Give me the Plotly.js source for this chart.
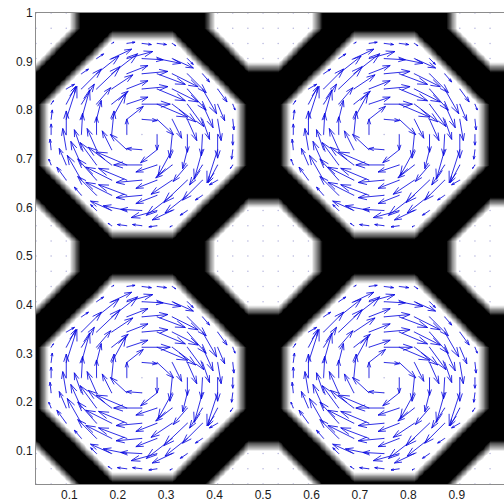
<!DOCTYPE html>
<html><head><meta charset="utf-8">
<script src="https://cdn.plot.ly/plotly-3.0.1.min.js"></script>
<style>html,body{margin:0;padding:0;background:#fff}#c{width:504px;height:502px}</style>
</head><body><div id="c"></div>
<script>
// 32 x 32 mask, one band of 16 rows repeated twice (y = row/32, x = col/32)
const maskBand = [
"11100000000011111110000000001111",
"11000111110001111100011111000111",
"10001111111000111000111111100011",
"00011111111100000001111111110000",
"00111111111110000011111111111000",
"01111111111111000111111111111100",
"01111111111111000111111111111100",
"01111111111111000111111111111100",
"01111111111111000111111111111100",
"01111111111111000111111111111100",
"00111111111110000011111111111000",
"00011111111100000001111111110000",
"10001111111000111000111111100011",
"11000111110001111100011111000111",
"11100000000011111110000000001111",
"11100000000011111110000000001111"
];
// Vector field of one large octagon, rows from top (dy=+6) to bottom (dy=-6); values read in screen pixels
const U = [
[2,7,8,8,3],
[6,17,22,18,20,18,5],
[6,19,22,18,22,24,22,16,6],
[7,17,20,18,18,22,24,22,16,12,8],
[2,8,11,12,14,18,24,26,20,14,9,6,2],
[1,9,7,4,12,14,13,14,8,8,6,3,1],
[0,0,1,0,2,0,0,0,-2,0,-1,0,0],
[-1,-3,-6,-8,-8,-14,-13,-14,-12,-4,-7,-9,-1],
[-2,-6,-9,-14,-20,-26,-24,-18,-14,-12,-11,-8,-2],
[-8,-12,-16,-22,-24,-22,-18,-18,-20,-17,-7],
[-6,-16,-22,-24,-22,-18,-22,-19,-6],
[-5,-18,-20,-18,-22,-17,-6],
[-3,-8,-8,-7,-2]
];
const V = [
[1,1,-1,-1,-2],
[4,8,6,-1,-4,-8,-5],
[4,15,17,7,2,-9,-11,-16,-7],
[4,17,19,12,7,2,-10,-11,-18,-21,-11],
[3,15,17,14,11,6,0,-11,-15,-19,-20,-14,-5],
[8,28,25,16,22,11,-1,-13,-16,-18,-17,-18,-9],
[9,20,18,15,20,13,0,-13,-20,-15,-18,-20,-9],
[9,18,17,18,16,13,1,-11,-22,-16,-25,-28,-8],
[5,14,20,19,15,11,0,-6,-11,-14,-17,-15,-3],
[11,21,18,11,10,-2,-7,-12,-19,-17,-4],
[7,16,11,9,-2,-7,-17,-15,-4],
[5,8,4,1,-6,-8,-4],
[2,1,1,-1,-1]
];
const tileCenters = [0.25, 0.75];
const xTicks = [0.1,0.2,0.3,0.4,0.5,0.6,0.7,0.8,0.9];
const yTicks = [0.1,0.2,0.3,0.4,0.5,0.6,0.7,0.8,0.9,1];
const step = 1/32;

const grid = [], z = [];
for (let i = 1; i <= 32; i++) grid.push(i*step);
for (let j = 0; j < 32; j++) z.push(maskBand[j%16].split('').map(Number));

// Shade each mask cell as two linear triangles, split along the diagonal whose corners agree,
// so staircase edges of the mask shade as straight bands.
const N = 6, fine = [], zf = [];
for (let k = 0; k <= 31*N; k++) fine.push((1 + k/N)*step);
function shade(px, py){
  const i = Math.min(Math.floor(px), 30), j = Math.min(Math.floor(py), 30);
  const s = px-i, t = py-j;
  const a=z[j][i], b=z[j][i+1], c=z[j+1][i], d=z[j+1][i+1];
  if (b===c && a!==d) {           // split along b-c
    return s+t<=1 ? a+(b-a)*s+(c-a)*t : d+(c-d)*(1-s)+(b-d)*(1-t);
  }
  // split along a-d
  return s>=t ? a+(b-a)*s+(d-b)*t : a+(c-a)*t+(d-c)*s;
}
for (let k = 0; k <= 31*N; k++){
  const r=[]; for (let m = 0; m <= 31*N; m++) r.push(shade(m/N,k/N)); zf.push(r);
}

// quiver segments through data coordinates
const ax=[], ay=[];
const sx=1.18/485, sy=1.18/486, a=0.33, b=0.33;
tileCenters.forEach(cx=>tileCenters.forEach(cy=>{
  U.forEach((row,r)=>{
    const dy=6-r, w=(row.length-1)/2;
    row.forEach((u,k)=>{
      const dx=k-w, v=V[r][k];
      if(u===0&&v===0) return;
      const x0=cx+dx*step, y0=cy+dy*step;
      const tx=x0+u*sx, ty=y0+v*sy;
      ax.push(x0,tx,null);ay.push(y0,ty,null);
      ax.push(tx-a*(u+b*v)*sx,tx,tx-a*(u-b*v)*sx,null);
      ay.push(ty-a*(v-b*u)*sy,ty,ty-a*(v+b*u)*sy,null);
    });
  });
}));
// zero-length vectors appear as faint dots on the white cells
const dx=[],dy=[];
z.forEach((row,j)=>row.forEach((c,i)=>{if(c){dx.push(grid[i]);dy.push(grid[j]);}}));

const fnt={family:'"Liberation Sans",Arial,sans-serif',size:12,color:'#1a1a1a'};
const axis={showgrid:false,zeroline:false,ticks:'',showline:true,mirror:true,linecolor:'#8c8c8c',linewidth:1,tickfont:fnt,tickmode:'array'};
Plotly.newPlot('c',[
 {type:'heatmap',x:fine,y:fine,z:zf,zsmooth:'best',zmin:0,zmax:1,showscale:false,hoverinfo:'skip',
  colorscale:[[0,'#000000'],[0.1,'#000000'],[0.8,'#ffffff'],[1,'#ffffff']]},
 {type:'scatter',mode:'markers',x:dx,y:dy,marker:{size:1.5,color:'rgba(70,70,170,0.4)'},hoverinfo:'skip'},
 {type:'scatter',mode:'lines',x:ax,y:ay,line:{color:'#0a0ae0',width:0.85},hoverinfo:'skip'}
],{
 width:504,height:502,showlegend:false,paper_bgcolor:'#fff',plot_bgcolor:'#fff',
 margin:{l:36,r:0,t:13,b:18,pad:0},
 xaxis:Object.assign({},axis,{range:[step,0.9975],tickvals:xTicks,ticktext:xTicks.map(String)}),
 yaxis:Object.assign({},axis,{range:[step,1],tickvals:yTicks,ticktext:yTicks.map(String)})
},{displayModeBar:false,staticPlot:true});
</script></body></html>
